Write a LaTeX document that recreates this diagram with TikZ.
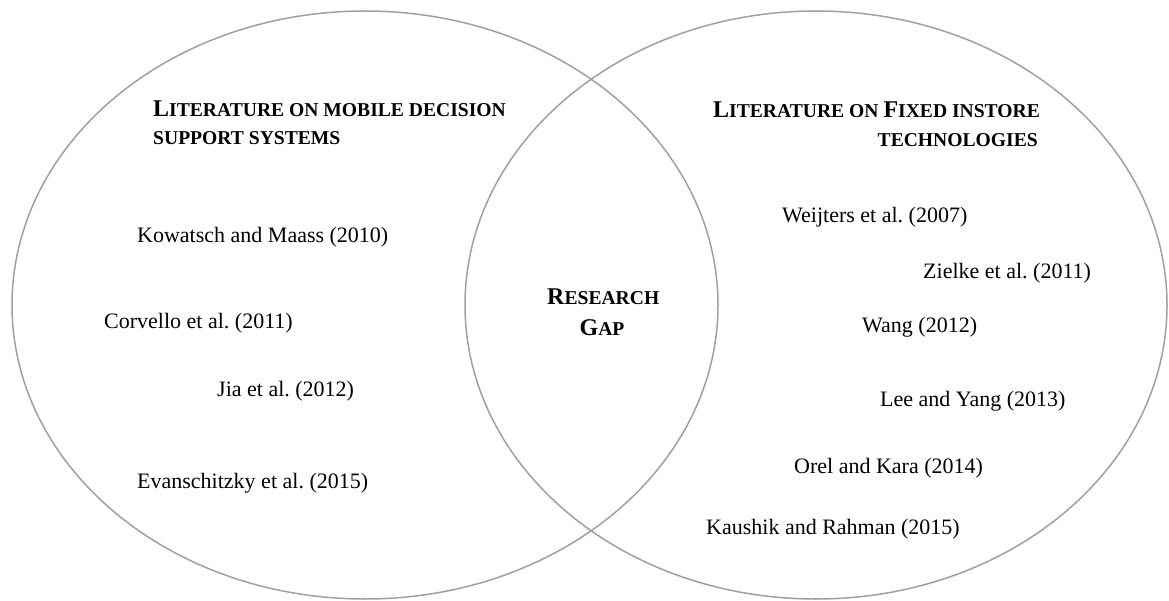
\documentclass[tikz,border=0pt]{standalone}
\usepackage{fontspec}
\setmainfont{Liberation Serif}
\frenchspacing
\definecolor{vennline}{RGB}{160,160,160}
\tikzset{
  venn/.style={draw=vennline, line width=1.5pt},
  ref/.style={anchor=base west, inner sep=0pt, font=\fontsize{22}{26}\selectfont},
  head/.style={inner sep=0pt, font=\fontsize{24}{28}\selectfont\bfseries},
}
\newcommand\smc[1]{{\fontsize{19.6}{22}\selectfont #1}}
\begin{document}
\begin{tikzpicture}[x=1pt,y=-1pt]
\fill[white] (0,0) rectangle (1169,601);
\useasboundingbox (0,0) rectangle (1169,601);
\draw[venn] (365,305) ellipse [x radius=353pt, y radius=294pt];
\draw[venn] (816,305) ellipse [x radius=351pt, y radius=294pt];
% left set
\node[head, anchor=base west] (lh1) at (153,117) {L\smc{ITERATURE ON MOBILE DECISION}};
\node[head, anchor=base west] (lh2) at (153,145) {\smc{SUPPORT SYSTEMS}};
\node[ref] (kow) at (137,243) {Kowatsch and Maass (2010)};
\node[ref] (cor) at (104,329) {Corvello et al. (2011)};
\node[ref] (jia) at (217,396) {Jia et al. (2012)};
\node[ref] (eva) at (137,488) {Evanschitzky et al. (2015)};
% intersection
\node[head, anchor=base west] (gap1) at (547,305) {R\smc{ESEARCH}};
\node[head, anchor=base] (gap2) at (602,335) {G\smc{AP}};
% right set
\node[head, anchor=base west] (rh1) at (713,118) {L\smc{ITERATURE ON }F\smc{IXED INSTORE}};
\node[head, anchor=base east] (rh2) at (1038,147) {\smc{TECHNOLOGIES}};
\node[ref] (wei) at (782,223) {Weijters et al. (2007)};
\node[ref] (zie) at (923,279) {Zielke et al. (2011)};
\node[ref] (wan) at (862,333) {Wang (2012)};
\node[ref] (lee) at (880,406) {Lee and Yang (2013)};
\node[ref] (ore) at (794,473) {Orel and Kara (2014)};
\node[ref] (kau) at (706,534) {Kaushik and Rahman (2015)};
\end{tikzpicture}
\end{document}
